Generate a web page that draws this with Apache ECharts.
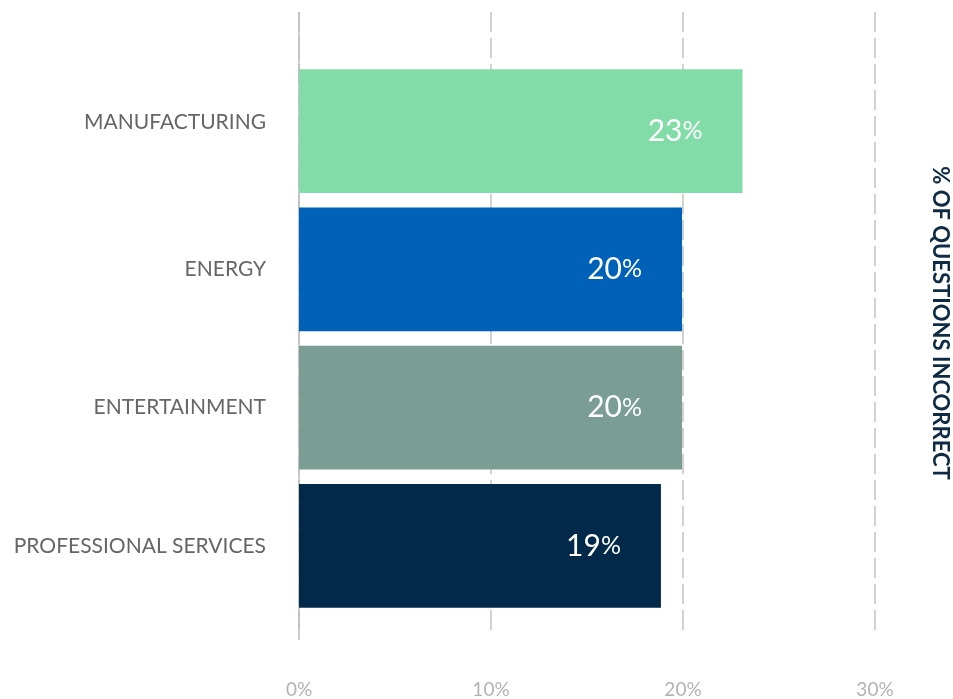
<!DOCTYPE html>
<html><head><meta charset="utf-8">
<script src="https://cdn.jsdelivr.net/npm/echarts@6/dist/echarts.min.js"></script>
<style>html,body{margin:0;padding:0;background:#fff}#c{width:953px;height:699px}</style>
</head><body><div id="c"></div>
<script>
const categories = ['MANUFACTURING', 'ENERGY', 'ENTERTAINMENT', 'PROFESSIONAL SERVICES'];
const values = [23.1, 19.95, 19.95, 18.85];
const colors = ['#82dca8', '#0061b8', '#7a9e93', '#02284a'];
const axisTitle = '% OF QUESTIONS INCORRECT';
const xMin = 0, xMax = 30, xStep = 10;

const chart = echarts.init(document.getElementById('c'));
const font = 'Lato, "Open Sans", sans-serif';
chart.setOption({
  animation: false,
  grid: [
    {left: 299, right: 78, top: 12, bottom: 59},
    {left: 299, right: 78, top: 62, bottom: 84}
  ],
  xAxis: [
    {gridIndex: 0, type: 'value', min: xMin, max: xMax, interval: xStep,
     axisLine: {show: false}, axisTick: {show: false},
     axisLabel: {formatter: '{value}%', color: '#b3b3b3', fontSize: 19, fontFamily: font, margin: 44},
     splitLine: {show: true, lineStyle: {color: '#c4c4c4', width: 1.5, type: [20, 6]}}},
    {gridIndex: 1, type: 'value', min: xMin, max: xMax, interval: xStep, show: false, splitLine: {show: false}}
  ],
  yAxis: [
    {gridIndex: 0, type: 'category', data: categories, inverse: true, show: false},
    {gridIndex: 1, type: 'category', data: categories, inverse: true,
     axisLine: {show: false}, axisTick: {show: false},
     axisLabel: {color: '#666', fontSize: 21, fontFamily: font, margin: 33,
       formatter: (v, i) => i === 0 ? '{up|' + v + '}' : v,
       rich: {up: {color: '#666', fontSize: 21, fontFamily: font, padding: [0, 0, 18, 0]}}}}
  ],
  graphic: [
    {type: 'line', shape: {x1: 299, y1: 12, x2: 299, y2: 640}, style: {stroke: '#bdbdbd', lineWidth: 1.5}, z: 1},
    {type: 'text', x: 940, y: 323, rotation: -Math.PI / 2,
     style: {text: axisTitle, fill: '#0d2b45', font: 'bold 22px ' + font, textAlign: 'center', textVerticalAlign: 'middle'}}
  ],
  series: [{
    type: 'bar', xAxisIndex: 1, yAxisIndex: 1,
    data: values.map((v, i) => ({value: v, itemStyle: {color: colors[i]}})),
    barCategoryGap: '10.4%', z: 5,
    label: {show: true, position: 'insideRight', distance: 40,
      formatter: p => '{n|' + Math.round(p.value) + '}{p|%}',
      rich: {n: {color: '#fff', fontSize: 30, fontFamily: font}, p: {color: '#fff', fontSize: 25, fontFamily: font}}}
  }]
});
</script></body></html>
